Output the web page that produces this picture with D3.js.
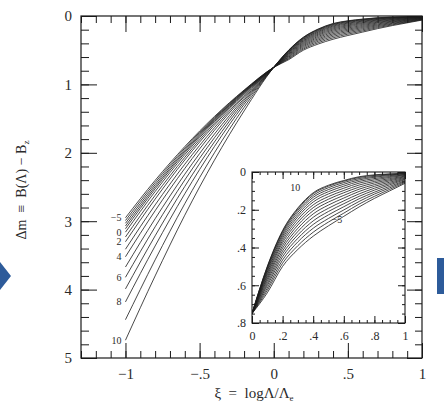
<!DOCTYPE html>
<html><head><meta charset="utf-8">
<script src="https://cdn.jsdelivr.net/npm/d3@7"></script>
<style>body{margin:0;background:#fff}svg{display:block}</style>
</head><body>
<svg id="chart" width="444" height="418"></svg>
<script>
// Sample abscissae xi = log(Lambda/Lambda_e) shared by every curve
const xiGrid = [-1, -0.8, -0.6, -0.4, -0.2, 0, 0.1, 0.2, 0.3, 0.4, 0.5, 0.6, 0.7, 0.8, 0.9, 1.0];

// Delta m along xiGrid, one array per curve parameter
const curveM5 = [2.95, 2.403, 1.909, 1.469, 1.083, 0.75, 0.640, 0.500, 0.410, 0.340, 0.285, 0.235, 0.185, 0.140, 0.100, 0.060];
const curveM4 = [2.99, 2.434, 1.931, 1.483, 1.089, 0.75, 0.627, 0.483, 0.390, 0.319, 0.265, 0.218, 0.170, 0.129, 0.092, 0.055];
const curveM3 = [3.03, 2.466, 1.954, 1.498, 1.096, 0.75, 0.615, 0.466, 0.370, 0.298, 0.246, 0.201, 0.156, 0.117, 0.084, 0.050];
const curveM2 = [3.07, 2.497, 1.976, 1.512, 1.103, 0.75, 0.602, 0.449, 0.351, 0.278, 0.227, 0.184, 0.142, 0.107, 0.076, 0.046];
const curveM1 = [3.11, 2.527, 1.998, 1.526, 1.110, 0.75, 0.591, 0.433, 0.333, 0.259, 0.209, 0.168, 0.129, 0.096, 0.068, 0.041];
const curveP0 = [3.16, 2.566, 2.027, 1.544, 1.119, 0.75, 0.579, 0.418, 0.315, 0.240, 0.192, 0.153, 0.116, 0.086, 0.061, 0.037];
const curveP1 = [3.23, 2.621, 2.066, 1.568, 1.130, 0.75, 0.568, 0.403, 0.298, 0.222, 0.175, 0.138, 0.103, 0.076, 0.054, 0.033];
const curveP2 = [3.30, 2.677, 2.105, 1.595, 1.143, 0.75, 0.558, 0.389, 0.281, 0.205, 0.159, 0.124, 0.091, 0.067, 0.047, 0.029];
const curveP3 = [3.41, 2.762, 2.167, 1.633, 1.162, 0.75, 0.548, 0.375, 0.266, 0.189, 0.144, 0.110, 0.080, 0.058, 0.041, 0.025];
const curveP4 = [3.52, 2.847, 2.229, 1.672, 1.180, 0.75, 0.539, 0.363, 0.251, 0.174, 0.130, 0.098, 0.069, 0.050, 0.035, 0.022];
const curveP5 = [3.67, 2.964, 2.313, 1.726, 1.206, 0.75, 0.530, 0.351, 0.237, 0.159, 0.116, 0.086, 0.059, 0.042, 0.029, 0.018];
const curveP6 = [3.82, 3.082, 2.397, 1.780, 1.231, 0.75, 0.522, 0.340, 0.225, 0.146, 0.104, 0.075, 0.050, 0.035, 0.024, 0.015];
const curveP7 = [3.99, 3.214, 2.492, 1.841, 1.259, 0.75, 0.515, 0.330, 0.213, 0.134, 0.093, 0.065, 0.042, 0.028, 0.019, 0.013];
const curveP8 = [4.18, 3.362, 2.599, 1.908, 1.292, 0.75, 0.508, 0.321, 0.203, 0.124, 0.083, 0.056, 0.035, 0.023, 0.015, 0.010];
const curveP9 = [4.44, 3.565, 2.744, 2.000, 1.336, 0.75, 0.503, 0.314, 0.195, 0.115, 0.075, 0.049, 0.029, 0.018, 0.012, 0.008];
const curveP10 = [4.74, 3.800, 2.912, 2.108, 1.388, 0.75, 0.500, 0.310, 0.190, 0.110, 0.070, 0.045, 0.025, 0.015, 0.010, 0.007];

const curveParams = [-5, -4, -3, -2, -1, 0, 1, 2, 3, 4, 5, 6, 7, 8, 9, 10];
const curveSets = [curveM5, curveM4, curveM3, curveM2, curveM1, curveP0, curveP1, curveP2,
                   curveP3, curveP4, curveP5, curveP6, curveP7, curveP8, curveP9, curveP10];

// Curves that carry a label at their left end
const labelledParams = [-5, 0, 2, 4, 6, 8, 10];
const labelText = ["\u22125", "0", "2", "4", "6", "8", "10"];

// Main axes ticks and labels
const xMajorTicks = [-1, -0.5, 0, 0.5, 1];
const xMajorLabels = ["\u22121", "\u2212.5", "0", ".5", "1"];
const yMajorTicks = [0, 1, 2, 3, 4, 5];
const yMajorLabels = ["0", "1", "2", "3", "4", "5"];

// Inset ticks and labels
const insetXTicks = [0, 0.2, 0.4, 0.6, 0.8, 1];
const insetXLabels = ["0", ".2", ".4", ".6", ".8", "1"];
const insetYTicks = [0, 0.2, 0.4, 0.6, 0.8];
const insetYLabels = ["0", ".2", ".4", ".6", ".8"];

const series = curveParams.map((p, i) => ({
  p, pts: xiGrid.map((xi, j) => [xi, curveSets[i][j]])
}));

const svg = d3.select("#chart");
const ink = "#1a1a1a";
const serif = "'Liberation Serif','DejaVu Serif',serif";

// ---------- main panel ----------
const x = d3.scaleLinear().domain([-1.3, 1]).range([81, 422]);
const y = d3.scaleLinear().domain([0, 5]).range([16, 358]);

const main = svg.append("g");

const line = d3.line().x(d => x(d[0])).y(d => y(d[1])).curve(d3.curveMonotoneX);
main.append("g").selectAll("path").data(series).join("path")
  .attr("d", d => line(d.pts))
  .attr("fill", "none").attr("stroke", ink).attr("stroke-width", 0.8);

function styleAxis(g) {
  g.select(".domain").remove();
  g.selectAll("line").attr("stroke", ink).attr("stroke-width", 1);
  g.selectAll("text").attr("fill", "#2a2a2a").attr("font-family", serif);
}

const xMinor = d3.range(-13, 11).map(v => v / 10);
const yMinor = d3.range(0, 26).map(v => v / 5);

// bottom
main.append("g").attr("transform", `translate(0,${y(5)})`)
  .call(d3.axisBottom(x).tickValues(xMinor).tickSize(-7).tickFormat("")).call(styleAxis);
main.append("g").attr("transform", `translate(0,${y(5)})`)
  .call(d3.axisBottom(x).tickValues(xMajorTicks).tickSize(-15).tickPadding(10)
    .tickFormat((d, i) => xMajorLabels[i])).call(styleAxis)
  .selectAll("text").attr("font-size", 15);
// top
main.append("g").attr("transform", `translate(0,${y(0)})`)
  .call(d3.axisTop(x).tickValues(xMinor).tickSize(-7).tickFormat("")).call(styleAxis);
main.append("g").attr("transform", `translate(0,${y(0)})`)
  .call(d3.axisTop(x).tickValues(xMajorTicks).tickSize(-16).tickFormat("")).call(styleAxis);
// left
main.append("g").attr("transform", `translate(${x(-1.3)},0)`)
  .call(d3.axisLeft(y).tickValues(yMinor).tickSize(-8).tickFormat("")).call(styleAxis);
main.append("g").attr("transform", `translate(${x(-1.3)},0)`)
  .call(d3.axisLeft(y).tickValues(yMajorTicks).tickSize(-16).tickPadding(9)
    .tickFormat((d, i) => yMajorLabels[i])).call(styleAxis)
  .selectAll("text").attr("font-size", 15);
// right
main.append("g").attr("transform", `translate(${x(1)},0)`)
  .call(d3.axisRight(y).tickValues(yMinor).tickSize(-7).tickFormat("")).call(styleAxis);
main.append("g").attr("transform", `translate(${x(1)},0)`)
  .call(d3.axisRight(y).tickValues(yMajorTicks).tickSize(-15).tickFormat("")).call(styleAxis);

// frame
main.append("rect").attr("x", x(-1.3)).attr("y", y(0))
  .attr("width", x(1) - x(-1.3)).attr("height", y(5) - y(0))
  .attr("fill", "none").attr("stroke", ink).attr("stroke-width", 1.2);

// labels at left end of curves
main.append("g").selectAll("text").data(labelledParams).join("text")
  .attr("x", x(-1) - 4)
  .attr("y", p => y(curveSets[curveParams.indexOf(p)][0]) + 3.5)
  .attr("text-anchor", "end").attr("font-size", 10).attr("font-family", serif)
  .attr("fill", "#2a2a2a")
  .text((p, i) => labelText[i]);

// axis titles
svg.append("text").attr("x", 254).attr("y", 398).attr("text-anchor", "middle")
  .attr("font-family", serif).attr("font-size", 15).attr("fill", "#2a2a2a")
  .html('\u03BE &#160;= &#160;log\u039B/\u039B<tspan font-size="9" dy="3">e</tspan>');
svg.append("text").attr("transform", "translate(26,190) rotate(-90)").attr("text-anchor", "middle")
  .attr("font-family", serif).attr("font-size", 14).attr("fill", "#2a2a2a")
  .html('\u0394m &#160;\u2261 &#160;B(\u039B) \u2212 B<tspan font-size="9" dy="3">z</tspan>');

// ---------- inset panel ----------
const xi = d3.scaleLinear().domain([0, 1]).range([252, 405]);
const yi = d3.scaleLinear().domain([0, 0.8]).range([172, 323]);
const inset = svg.append("g");
inset.append("rect").attr("x", xi(0)).attr("y", yi(0))
  .attr("width", xi(1) - xi(0)).attr("height", yi(0.8) - yi(0)).attr("fill", "#fff");
inset.append("clipPath").attr("id", "insetClip").append("rect")
  .attr("x", xi(0)).attr("y", yi(0)).attr("width", xi(1) - xi(0)).attr("height", yi(0.8) - yi(0));
const lineI = d3.line().x(d => xi(d[0])).y(d => yi(d[1])).curve(d3.curveMonotoneX);
inset.append("g").attr("clip-path", "url(#insetClip)")
  .selectAll("path").data(series).join("path")
  .attr("d", d => lineI(d.pts.filter(q => q[0] >= 0)))
  .attr("fill", "none").attr("stroke", ink).attr("stroke-width", 0.8);

const ixMinor = d3.range(0, 21).map(v => v / 20);
const iyMinor = d3.range(0, 17).map(v => v / 20);
inset.append("g").attr("transform", `translate(0,${yi(0.8)})`)
  .call(d3.axisBottom(xi).tickValues(ixMinor).tickSize(-3).tickFormat("")).call(styleAxis);
inset.append("g").attr("transform", `translate(0,${yi(0.8)})`)
  .call(d3.axisBottom(xi).tickValues(insetXTicks).tickSize(-7).tickPadding(8)
    .tickFormat((d, i) => insetXLabels[i])).call(styleAxis)
  .selectAll("text").attr("font-size", 12);
inset.append("g").attr("transform", `translate(0,${yi(0)})`)
  .call(d3.axisTop(xi).tickValues(ixMinor).tickSize(-3).tickFormat("")).call(styleAxis);
inset.append("g").attr("transform", `translate(0,${yi(0)})`)
  .call(d3.axisTop(xi).tickValues(insetXTicks).tickSize(-7).tickFormat("")).call(styleAxis);
inset.append("g").attr("transform", `translate(${xi(0)},0)`)
  .call(d3.axisLeft(yi).tickValues(iyMinor).tickSize(-3).tickFormat("")).call(styleAxis);
inset.append("g").attr("transform", `translate(${xi(0)},0)`)
  .call(d3.axisLeft(yi).tickValues(insetYTicks).tickSize(-7).tickPadding(6)
    .tickFormat((d, i) => insetYLabels[i])).call(styleAxis)
  .selectAll("text").attr("font-size", 12);
inset.append("g").attr("transform", `translate(${xi(1)},0)`)
  .call(d3.axisRight(yi).tickValues(iyMinor).tickSize(-3).tickFormat("")).call(styleAxis);
inset.append("g").attr("transform", `translate(${xi(1)},0)`)
  .call(d3.axisRight(yi).tickValues(insetYTicks).tickSize(-7).tickFormat("")).call(styleAxis);
inset.append("rect").attr("x", xi(0)).attr("y", yi(0))
  .attr("width", xi(1) - xi(0)).attr("height", yi(0.8) - yi(0))
  .attr("fill", "none").attr("stroke", ink).attr("stroke-width", 1.1);

inset.append("text").attr("x", xi(0.25)).attr("y", yi(0.1))
  .attr("font-family", serif).attr("font-size", 10).attr("fill", "#2a2a2a").text("10");
inset.append("text").attr("x", xi(0.52)).attr("y", yi(0.27))
  .attr("font-family", serif).attr("font-size", 10).attr("fill", "#2a2a2a").text("\u22125");

// page navigation marks at the edges
svg.append("path").attr("d", "M0,262 L11,276 L0,290 Z").attr("fill", "#2d5b9a");
svg.append("rect").attr("x", 437).attr("y", 258).attr("width", 7).attr("height", 36).attr("fill", "#2d5b9a");
</script>
</body></html>
